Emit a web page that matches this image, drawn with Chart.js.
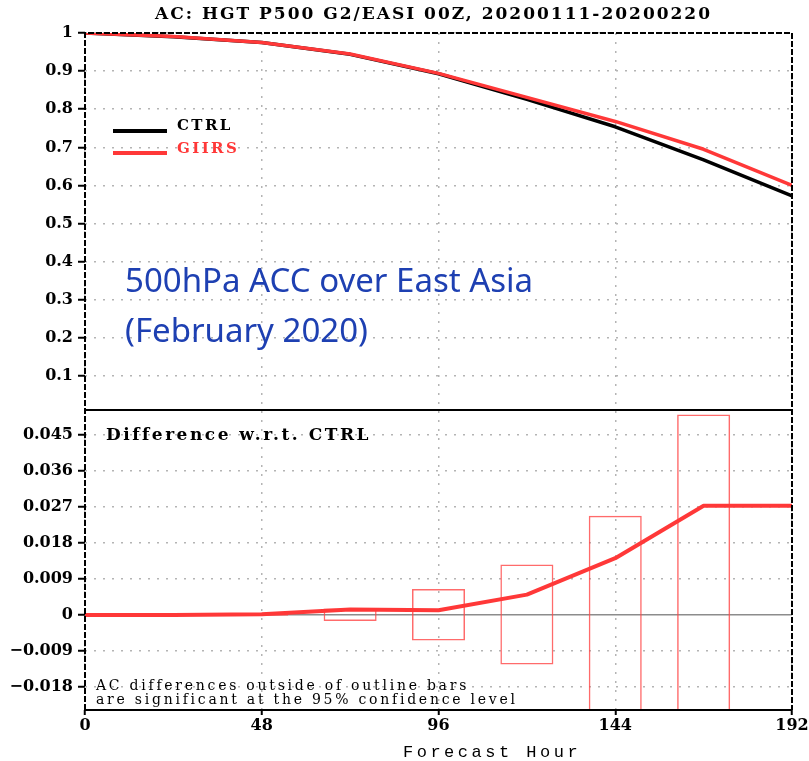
<!DOCTYPE html>
<html>
<head>
<meta charset="utf-8">
<script src="https://cdn.jsdelivr.net/npm/chart.js@4.4.1/dist/chart.umd.min.js"></script>
<style>
  body { margin: 0; background: #fff; }
  #wrap { position: relative; width: 809px; height: 761px; overflow: hidden; }
  #wrap canvas { position: absolute; left: 0; top: 0; }
  .txt { position: absolute; white-space: nowrap; }
  .title { left: 155px; top: 5px; font: bold 17px/17px "DejaVu Serif", serif; letter-spacing: 2px; color: #000; }
  .key { left: 177px; font: bold 15px/15px "DejaVu Serif", serif; letter-spacing: 2.4px; }
  .swatch { position: absolute; left: 113px; width: 54px; height: 3.5px; }
  .note { left: 125px; top: 255px; font: 33px/50px "Noto Sans", sans-serif; color: #1e40b2; }
  .diffTitle { left: 106px; top: 426px; font: bold 17px/17px "DejaVu Serif", serif; letter-spacing: 2.5px; color: #000; }
  .sig { left: 96px; top: 678px; font: 14px/14px "DejaVu Serif", serif; letter-spacing: 2.75px; color: #000; }
  .xTitle { left: 403px; top: 744px; font: 17px/17px "Liberation Mono", monospace; letter-spacing: 3.5px; color: #000; }
</style>
</head>
<body>
<div id="wrap">
  <canvas id="acc" width="809" height="761"></canvas>
  <div class="txt title">AC: HGT P500 G2/EASI 00Z, 20200111-20200220</div>
  <div class="swatch" style="top:129px;background:#000"></div>
  <div class="swatch" style="top:151px;background:#ff3838"></div>
  <div class="txt key" style="top:118px;color:#000">CTRL</div>
  <div class="txt key" style="top:141px;color:#ff3838">GIIRS</div>
  <div class="txt note">500hPa ACC over East Asia<br>(February 2020)</div>
  <div class="txt diffTitle">Difference w.r.t. CTRL</div>
  <div class="txt sig">AC differences outside of outline bars<br>are significant at the 95% confidence level</div>
  <div class="txt xTitle">Forecast Hour</div>
</div>
<script>
// forecast lead times (h) and anomaly correlation per experiment
const hours    = [0, 24, 48, 72, 96, 120, 144, 168, 192];
const ctrlAcc  = [1.000, 0.990, 0.975, 0.944, 0.893, 0.826, 0.754, 0.667, 0.573];
const giirsAcc = [1.000, 0.991, 0.975, 0.945, 0.894, 0.831, 0.768, 0.695, 0.600];
const diffAcc  = [0, 0, 0.0002, 0.0014, 0.0012, 0.0051, 0.0142, 0.0273, 0.0273];

// 95% significance bounds (outline bars)
const boxHours = [48, 72, 96, 120, 144, 168];
const boxLow   = [-0.0002, -0.0015, -0.0064, -0.0124, -0.0248, -0.0501];
const boxHigh  = [0.0002, 0.0016, 0.0065, 0.0126, 0.0248, 0.0501];

const RED = '#ff3838';
const TICK_FONT = { family: 'DejaVu Serif', weight: 'bold', size: 16 };
const GRID = '#b4b4b4';

const pts = ys => hours.map((h, i) => ({ x: h, y: ys[i] }));
const fmtTick = v => String(Number(v.toFixed(3))).replace('-', '\u2212');

function fixWidth(s) { s.width = 85; s.paddingTop = 0; s.paddingBottom = 0; }

function yGrid(zeroColor) {
  return {
    color: ctx => (ctx.tick && ctx.tick.value === 0 && zeroColor) ? zeroColor : GRID,
    lineWidth: 1.5,
    tickLength: 7, tickColor: '#000', tickWidth: 2, tickBorderDash: [],
  };
}

// dashed outer frame, solid bottom edge and panel separator
const framePlugin = {
  id: 'frame',
  afterDatasetsDraw(chart) {
    const { ctx, chartArea: a } = chart;
    const mid = chart.scales.acc.bottom;
    ctx.save();
    ctx.strokeStyle = '#000';
    ctx.lineWidth = 2;
    ctx.setLineDash([6, 2]);
    ctx.beginPath();
    ctx.moveTo(a.left, a.bottom);
    ctx.lineTo(a.left, a.top);
    ctx.lineTo(a.right, a.top);
    ctx.lineTo(a.right, a.bottom);
    ctx.stroke();
    ctx.setLineDash([]);
    ctx.beginPath();
    ctx.moveTo(a.left, a.bottom); ctx.lineTo(a.right, a.bottom);
    ctx.moveTo(a.left, mid); ctx.lineTo(a.right, mid);
    ctx.stroke();
    ctx.restore();
  },
};

new Chart(document.getElementById('acc'), {
  type: 'line',
  data: {
    datasets: [
      { label: 'GIIRS', data: pts(giirsAcc), yAxisID: 'acc', borderColor: RED, borderWidth: 3.5, order: 1 },
      { label: 'CTRL', data: pts(ctrlAcc), yAxisID: 'acc', borderColor: '#000', borderWidth: 3.5, order: 2 },
      { label: 'GIIRS - CTRL', data: pts(diffAcc), yAxisID: 'diff', borderColor: RED, borderWidth: 4, order: 1 },
      {
        type: 'bar', label: 'significance',
        data: boxHours.map((h, i) => ({ x: h, y: [boxLow[i], boxHigh[i]] })),
        yAxisID: 'diff', backgroundColor: 'rgba(0,0,0,0)', borderColor: 'rgba(255,70,70,0.8)',
        borderWidth: 1.5, borderSkipped: false, barPercentage: 1, categoryPercentage: 0.6, order: 3,
      },
    ],
  },
  options: {
    responsive: false,
    animation: false,
    layout: { padding: { top: 33, right: 17, left: 0, bottom: 0 } },
    elements: { line: { tension: 0, borderJoinStyle: 'round' }, point: { radius: 0 } },
    plugins: { legend: { display: false }, tooltip: { enabled: false } },
    scales: {
      x: {
        type: 'linear', min: 0, max: 192, offset: false,
        ticks: { stepSize: 48, font: TICK_FONT, color: '#000', padding: 1, maxRotation: 0 },
        grid: { color: GRID, lineWidth: 1.5, offset: false, tickLength: 5, tickColor: '#000', tickWidth: 2, tickBorderDash: [] },
        border: { display: false, dash: [2, 7] },
        afterFit(s) { s.height = 51; s.paddingLeft = 0; s.paddingRight = 0; },
      },
      diff: {
        type: 'linear', position: 'left', stack: 'panels', stackWeight: 300,
        min: -0.02375, max: 0.05125,
        ticks: { stepSize: 0.009, includeBounds: false, callback: fmtTick, font: TICK_FONT, color: '#000', padding: 5 },
        grid: yGrid('#8c8c8c'),
        border: { display: false, dash: ctx => (ctx.tick && ctx.tick.value === 0) ? [] : [2, 7] },
        afterFit: fixWidth,
      },
      acc: {
        type: 'linear', position: 'left', stack: 'panels', stackWeight: 377,
        min: 0.011, max: 1,
        ticks: { stepSize: 0.1, includeBounds: false, callback: fmtTick, font: TICK_FONT, color: '#000', padding: 5 },
        grid: yGrid(null),
        border: { display: false, dash: [2, 7] },
        afterFit: fixWidth,
      },
    },
  },
  plugins: [framePlugin],
});
</script>
</body>
</html>
